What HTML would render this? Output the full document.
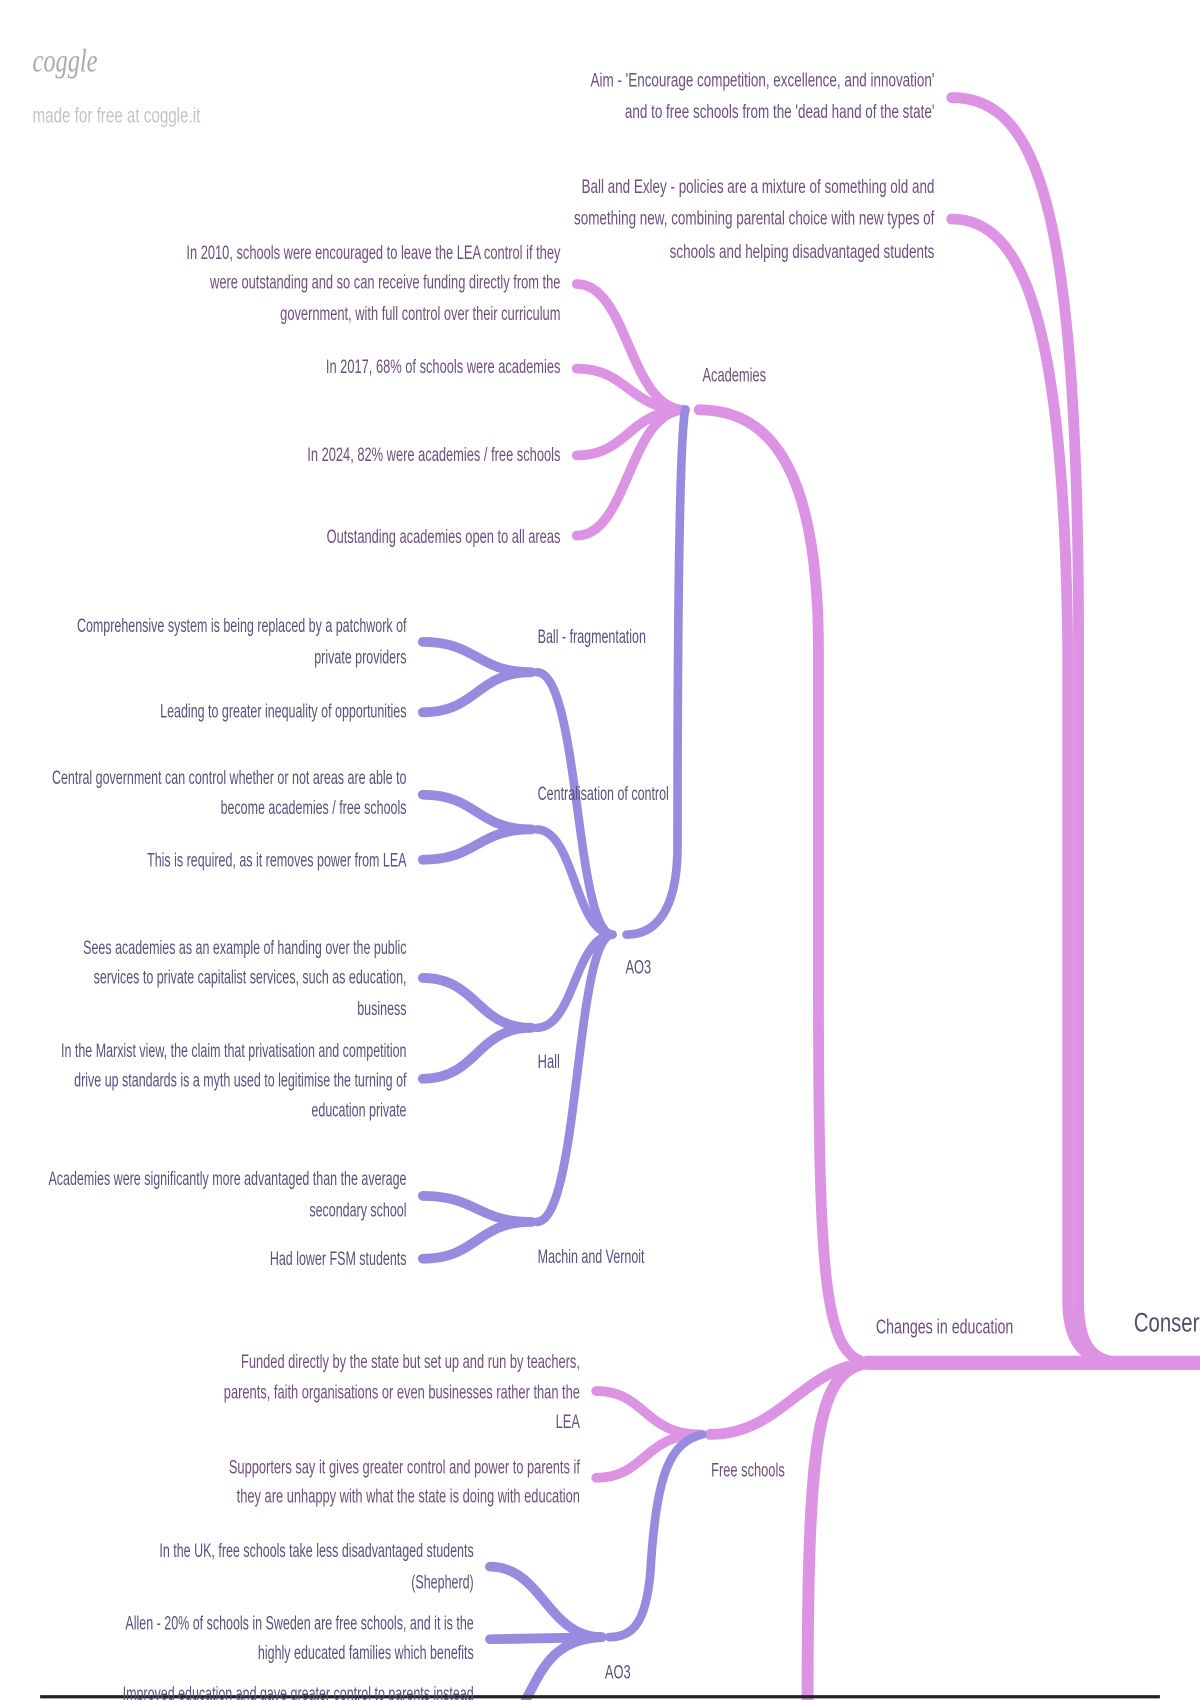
<!DOCTYPE html>
<html><head><meta charset="utf-8"><style>
html,body{margin:0;padding:0;background:#fff;width:1200px;height:1700px;overflow:hidden}
svg{display:block}
text{font-family:"Liberation Sans",sans-serif;font-size:18px}
.p{fill:#6e4f7c}.u{fill:#55527e}
</style></head><body>
<svg width="1200" height="1700" viewBox="0 0 1107 1568" preserveAspectRatio="none" xmlns="http://www.w3.org/2000/svg">
<g fill="none" stroke-linecap="round">
<g stroke="#dd93e3">
<path d="M800,1257 L1107,1257" stroke-width="13"/>
<path d="M878,90 C960,90 995,200 995,600 L995,1200 C995,1245 1010,1257 1040,1257" stroke-width="10"/>
<path d="M878,202 C945,202 982,300 985,600 L985,1200 C985,1245 1005,1257 1040,1257" stroke-width="10"/>
<path d="M800,1257 C760,1250 755,1180 755,900 L755,600 C755,450 720,378 645,378" stroke-width="10"/>
<path d="M800,1257 C755,1265 745,1320 745,1568" stroke-width="11"/>
<path d="M800,1257 C740,1262 720,1323 655,1323" stroke-width="10"/>
<g stroke-width="9">
<path d="M632,378 C580,378 580,262 532,262"/>
<path d="M632,378 C580,378 580,340 532,340"/>
<path d="M632,378 C580,378 580,420 532,420"/>
<path d="M632,378 C580,378 580,494 532,494"/>
<path d="M645,1323 C595,1323 595,1283 550,1283"/>
<path d="M645,1323 C595,1323 595,1363 550,1363"/>
</g>
</g>
<g stroke="#978be0" stroke-width="8">
<path d="M632,378 C625,420 625,700 625,780 C625,840 605,862 578,862"/>
<path d="M565,862 C530,860 535,620 495,620"/>
<path d="M565,862 C530,860 530,765 495,765"/>
<path d="M565,862 C530,864 530,948 495,948"/>
<path d="M565,862 C530,864 535,1127 495,1127"/>
<g stroke-width="9">
<path d="M490,620 C440,620 440,592 390,592"/>
<path d="M490,620 C440,620 440,657 390,657"/>
<path d="M490,765 C440,765 440,733 390,733"/>
<path d="M490,765 C440,765 440,793 390,793"/>
<path d="M490,948 C440,948 440,902 390,902"/>
<path d="M490,948 C440,948 440,995 390,995"/>
<path d="M490,1127 C440,1127 440,1103 390,1103"/>
<path d="M490,1127 C440,1127 440,1161 390,1161"/>
</g>
<path d="M648,1323 C618,1330 605,1360 600,1450 C596,1495 585,1510 562,1510"/>
<g stroke-width="9">
<path d="M555,1510 C505,1510 500,1445 452,1445"/>
<path d="M555,1510 L452,1512"/>
<path d="M555,1510 C510,1512 500,1540 485,1568"/>
</g>
</g>
</g>
<line x1="37" y1="1565" x2="1070" y2="1565" stroke="#222" stroke-width="3"/>
<g transform="translate(30,66) scale(0.75,1)"><text style="font-family:'Liberation Serif',serif;font-style:italic;font-size:30px;fill:#aaa">coggle</text></g>
<g transform="translate(30,113) scale(0.7,1)"><text style="fill:#c4c4c4;font-size:20px">made for free at coggle.it</text></g>

<g text-anchor="end">
<g class="p">
<g transform="translate(862,80) scale(0.69,1)"><text>Aim - 'Encourage competition, excellence, and innovation'</text></g>
<g transform="translate(862,109) scale(0.69,1)"><text>and to free schools from the 'dead hand of the state'</text></g>
<g transform="translate(862,178) scale(0.69,1)"><text>Ball and Exley - policies are a mixture of something old and</text></g>
<g transform="translate(862,207) scale(0.69,1)"><text>something new, combining parental choice with new types of</text></g>
<g transform="translate(862,238) scale(0.69,1)"><text>schools and helping disadvantaged students</text></g>
<g transform="translate(517,239) scale(0.66,1)"><text>In 2010, schools were encouraged to leave the LEA control if they</text></g>
<g transform="translate(517,266) scale(0.66,1)"><text>were outstanding and so can receive funding directly from the</text></g>
<g transform="translate(517,295) scale(0.66,1)"><text>government, with full control over their curriculum</text></g>
<g transform="translate(517,344) scale(0.66,1)"><text>In 2017, 68% of schools were academies</text></g>
<g transform="translate(517,425) scale(0.66,1)"><text>In 2024, 82% were academies / free schools</text></g>
<g transform="translate(517,501) scale(0.66,1)"><text>Outstanding academies open to all areas</text></g>
<g transform="translate(535,1262) scale(0.66,1)"><text>Funded directly by the state but set up and run by teachers,</text></g>
<g transform="translate(535,1290) scale(0.66,1)"><text>parents, faith organisations or even businesses rather than the</text></g>
<g transform="translate(535,1317) scale(0.66,1)"><text>LEA</text></g>
<g transform="translate(535,1359) scale(0.66,1)"><text>Supporters say it gives greater control and power to parents if</text></g>
<g transform="translate(535,1386) scale(0.66,1)"><text>they are unhappy with what the state is doing with education</text></g>
</g>
<g class="u">
<g transform="translate(375,583) scale(0.64,1)"><text>Comprehensive system is being replaced by a patchwork of</text></g>
<g transform="translate(375,612) scale(0.64,1)"><text>private providers</text></g>
<g transform="translate(375,662) scale(0.64,1)"><text>Leading to greater inequality of opportunities</text></g>
<g transform="translate(375,723) scale(0.64,1)"><text>Central government can control whether or not areas are able to</text></g>
<g transform="translate(375,751) scale(0.64,1)"><text>become academies / free schools</text></g>
<g transform="translate(375,799) scale(0.64,1)"><text>This is required, as it removes power from LEA</text></g>
<g transform="translate(375,880) scale(0.64,1)"><text>Sees academies as an example of handing over the public</text></g>
<g transform="translate(375,907) scale(0.64,1)"><text>services to private capitalist services, such as education,</text></g>
<g transform="translate(375,936) scale(0.64,1)"><text>business</text></g>
<g transform="translate(375,975) scale(0.64,1)"><text>In the Marxist view, the claim that privatisation and competition</text></g>
<g transform="translate(375,1002) scale(0.64,1)"><text>drive up standards is a myth used to legitimise the turning of</text></g>
<g transform="translate(375,1030) scale(0.64,1)"><text>education private</text></g>
<g transform="translate(375,1093) scale(0.64,1)"><text>Academies were significantly more advantaged than the average</text></g>
<g transform="translate(375,1122) scale(0.64,1)"><text>secondary school</text></g>
<g transform="translate(375,1167) scale(0.64,1)"><text>Had lower FSM students</text></g>
<g transform="translate(437,1436) scale(0.64,1)"><text>In the UK, free schools take less disadvantaged students</text></g>
<g transform="translate(437,1465) scale(0.64,1)"><text>(Shepherd)</text></g>
<g transform="translate(437,1503) scale(0.64,1)"><text>Allen - 20% of schools in Sweden are free schools, and it is the</text></g>
<g transform="translate(437,1530) scale(0.64,1)"><text>highly educated families which benefits</text></g>
<g transform="translate(437,1568) scale(0.64,1)"><text>Improved education and gave greater control to parents instead</text></g>
</g>
</g>
<g class="p">
<g transform="translate(648,352) scale(0.66,1)"><text>Academies</text></g>
<g transform="translate(808,1230) scale(0.69,1)"><text style="font-size:19px">Changes in education</text></g>
<g transform="translate(656,1362) scale(0.66,1)"><text>Free schools</text></g>
<g transform="translate(1046,1228) scale(0.75,1)"><text style="font-size:25px;fill:#5a4a6a">Conservatives</text></g>
</g>
<g class="u">
<g transform="translate(496,593) scale(0.64,1)"><text>Ball - fragmentation</text></g>
<g transform="translate(496,738) scale(0.64,1)"><text>Centralisation of control</text></g>
<g transform="translate(577,898) scale(0.66,1)"><text>AO3</text></g>
<g transform="translate(496,985) scale(0.66,1)"><text>Hall</text></g>
<g transform="translate(496,1165) scale(0.64,1)"><text>Machin and Vernoit</text></g>
<g transform="translate(558,1548) scale(0.66,1)"><text>AO3</text></g>
</g>
</svg>
</body></html>
